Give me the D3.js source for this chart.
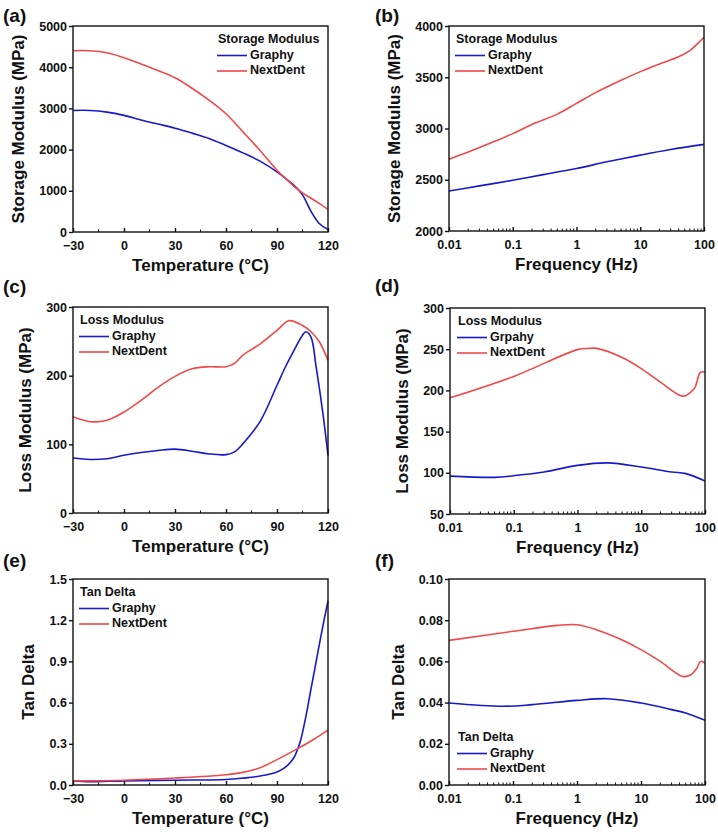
<!DOCTYPE html>
<html><head><meta charset="utf-8">
<script src="https://cdn.jsdelivr.net/npm/d3@7"></script>
<style>
body{margin:0;background:#fff;}
text{font-family:"Liberation Sans",Arial,sans-serif;font-weight:bold;fill:#111;}
</style></head>
<body><svg id="c" width="718" height="835"></svg>
<script>
// ---------- DATA ----------
const seriesNames = ["Graphy", "NextDent"];
// (a) storage modulus vs temperature
const tempA = [-30,-20,-10,0,10,20,30,40,50,60,70,80,90,95,100,105,110,115,120];
const graphyA = [2950,2950,2910,2830,2720,2620,2520,2400,2270,2100,1920,1720,1460,1300,1130,900,500,200,60];
const nextdentA = [4400,4400,4350,4230,4080,3920,3745,3490,3200,2870,2430,1980,1500,1300,1110,950,820,690,550];
// (b) storage modulus vs frequency
const freqBg = [0.01,0.03,0.1,0.3,1,3,10,30,100];
const graphyB = [2390,2440,2495,2550,2610,2675,2740,2795,2845];
const freqBn = [0.01,0.02,0.05,0.1,0.2,0.5,1,2,5,10,20,40,60,80,100];
const nextdentB = [2700,2770,2870,2950,3040,3140,3245,3350,3470,3555,3630,3700,3760,3830,3890];
// (c) loss modulus vs temperature
const tempCg = [-30,-20,-10,0,10,20,30,40,50,60,65,70,80,90,95,100,105,107,110,113,117,120];
const graphyC = [80,78,79,84,88,91,93,90,86,85,89,101,133,186,213,237,259,264,256,213,145,84];
const tempCn = [-30,-20,-10,0,10,20,30,40,50,60,65,70,80,90,97,105,110,115,120];
const nextdentC = [140,133,135,147,164,183,199,210,213,213,218,230,246,266,280,273,264,249,222];
// (d) loss modulus vs frequency
const freqDg = [0.01,0.05,0.1,0.3,1,3,10,30,50,100];
const graphyD = [96,94.5,96.5,101,109,112,107,101,99,90];
const freqDn = [0.01,0.1,1,1.5,2,5,10,20,45,60,70,85,100];
const nextdentD = [191,217,249.5,251,251,240,226.5,210,193,198,204,222,222];
// (e) tan delta vs temperature
const tempEg = [-30,-20,0,30,60,70,80,90,95,100,102.4,104,107,110,112,115,118,120];
const graphyE = [0.03,0.024,0.03,0.035,0.04,0.05,0.065,0.095,0.13,0.2,0.27,0.33,0.5,0.7,0.83,1.03,1.22,1.34];
const tempEn = [-30,0,30,60,70,80,90,100,110,120];
const nextdentE = [0.03,0.035,0.051,0.075,0.092,0.125,0.185,0.25,0.32,0.40];
// (f) tan delta vs frequency
const freqFg = [0.01,0.07,0.2,1,3,10,30,50,100];
const graphyF = [0.0398,0.0382,0.039,0.0411,0.0419,0.0398,0.0366,0.035,0.0314];
const freqFn = [0.01,0.1,0.5,1,2,5,10,20,45,60,75,85,100];
const nextdentF = [0.0702,0.0746,0.0775,0.0778,0.0754,0.0705,0.0657,0.060,0.0527,0.0535,0.0568,0.060,0.0592];

const tempTicks = [-30,0,30,60,90,120];
const freqTicks = [0.01,0.1,1,10,100];
const freqTickLabels = ["0.01","0.1","1","10","100"];
const ticksA = [0,1000,2000,3000,4000,5000];
const ticksB = [2000,2500,3000,3500,4000];
const ticksC = [0,100,200,300];
const ticksD = [50,100,150,200,250,300];
const ticksE = [0,0.3,0.6,0.9,1.2,1.5];
const ticksF = [0,0.02,0.04,0.06,0.08,0.10];
const legendTitles = ["Storage Modulus","Storage Modulus","Loss Modulus","Loss Modulus","Tan Delta","Tan Delta"];
const legendNamesD = ["Grpahy","NextDent"];

// ---------- LAYOUT ----------
const COL_BLUE = "#1818c8", COL_RED = "#f04848";
const svg = d3.select("#c");

const panels = [
 {lab:"(a)", lx:3, ly:17, x0:73, x1:328, y0:26, y1:232, log:false, dom:[-30,120], ydom:[0,5000], yt:ticksA, fmt:d3.format("d"),
  ytitle:"Storage Modulus (MPa)", ytx:20, xtitle:"Temperature (°C)", leg:[218,40], legTitle:legendTitles[0], names:seriesNames,
  s:[[tempA,graphyA],[tempA,nextdentA]]},
 {lab:"(b)", lx:375, ly:17, x0:449, x1:704, y0:26, y1:231, log:true, dom:[0.01,100], ydom:[2000,4000], yt:ticksB, fmt:d3.format("d"),
  ytitle:"Storage Modulus (MPa)", ytx:396, xtitle:"Frequency (Hz)", leg:[456,40], legTitle:legendTitles[1], names:seriesNames,
  s:[[freqBg,graphyB],[freqBn,nextdentB]]},
 {lab:"(c)", lx:3, ly:288, x0:73, x1:328, y0:307, y1:513, log:false, dom:[-30,120], ydom:[0,300], yt:ticksC, fmt:d3.format("d"),
  ytitle:"Loss Modulus (MPa)", ytx:27, xtitle:"Temperature (°C)", leg:[80,321], legTitle:legendTitles[2], names:seriesNames,
  s:[[tempCg,graphyC],[tempCn,nextdentC]]},
 {lab:"(d)", lx:375, ly:287, x0:450, x1:705, y0:308, y1:514, log:true, dom:[0.01,100], ydom:[50,300], yt:ticksD, fmt:d3.format("d"),
  ytitle:"Loss Modulus (MPa)", ytx:404, xtitle:"Frequency (Hz)", leg:[458,322], legTitle:legendTitles[3], names:legendNamesD,
  s:[[freqDg,graphyD],[freqDn,nextdentD]]},
 {lab:"(e)", lx:3, ly:562, x0:73, x1:328, y0:579, y1:785, log:false, dom:[-30,120], ydom:[0,1.5], yt:ticksE, fmt:d3.format(".1f"),
  ytitle:"Tan Delta", ytx:30, xtitle:"Temperature (°C)", leg:[80,593], legTitle:legendTitles[4], names:seriesNames,
  s:[[tempEg,graphyE],[tempEn,nextdentE]]},
 {lab:"(f)", lx:375, ly:562, x0:449, x1:705, y0:579, y1:785, log:true, dom:[0.01,100], ydom:[0,0.10], yt:ticksF, fmt:d3.format(".2f"),
  ytitle:"Tan Delta", ytx:400, xtitle:"Frequency (Hz)", leg:[458,738], legTitle:legendTitles[5], names:seriesNames,
  s:[[freqFg,graphyF],[freqFn,nextdentF]]}
];

panels.forEach(p => {
  const g = svg.append("g");
  const x = (p.log ? d3.scaleLog() : d3.scaleLinear()).domain(p.dom).range([p.x0,p.x1]);
  const y = d3.scaleLinear().domain(p.ydom).range([p.y1,p.y0]);

  g.append("text").attr("x",p.lx).attr("y",p.ly).attr("dominant-baseline","middle")
    .style("font-size","19px").text(p.lab);

  const cols = [COL_BLUE, COL_RED];
  p.s.forEach((s,i) => {
    const pts = s[0].map((v,j)=>[v,s[1][j]]);
    g.append("path").datum(pts)
      .attr("d", d3.line().x(d=>x(d[0])).y(d=>y(d[1])).curve(d3.curveCatmullRom.alpha(0.5)))
      .attr("fill","none").attr("stroke",cols[i]).attr("stroke-width",1.6);
  });

  g.append("rect").attr("x",p.x0).attr("y",p.y0).attr("width",p.x1-p.x0).attr("height",p.y1-p.y0)
    .attr("fill","none").attr("stroke","#111").attr("stroke-width",1.4);

  const ya = g.append("g").attr("transform",`translate(${p.x0},0)`)
    .call(d3.axisLeft(y).tickValues(p.yt).tickFormat(p.fmt).tickSize(4).tickPadding(2));
  ya.select(".domain").remove();
  ya.selectAll("line").attr("stroke","#111").attr("stroke-width",1.4);
  ya.selectAll("text").style("font-size","12.5px").style("font-family",null);

  const xa = g.append("g").attr("transform",`translate(0,${p.y1})`)
    .call(d3.axisBottom(x).tickValues(p.log?freqTicks:tempTicks)
      .tickFormat(p.log ? ((d,i)=>freqTickLabels[i]) : d3.format("d")).tickSize(-4).tickPadding(9));
  xa.select(".domain").remove();
  xa.selectAll("line").attr("stroke","#111").attr("stroke-width",1.4);
  xa.selectAll("text").style("font-size","12.5px").style("font-family",null);

  let minors = [];
  if (p.log) {
    for (let e=-2;e<2;e++) for (let m=2;m<10;m++) minors.push(m*Math.pow(10,e));
  } else {
    minors = [-15,15,45,75,105];
  }
  g.selectAll(null).data(minors).enter().append("line")
    .attr("x1",d=>x(d)).attr("x2",d=>x(d)).attr("y1",p.y1).attr("y2",p.y1-2.5)
    .attr("stroke","#111").attr("stroke-width",1);

  g.append("text").attr("x",(p.x0+p.x1)/2).attr("y",p.y1+35).attr("text-anchor","middle")
    .attr("dominant-baseline","middle").style("font-size","17px").text(p.xtitle);
  g.append("text").attr("transform",`translate(${p.ytx},${(p.y0+p.y1)/2}) rotate(-90)`)
    .attr("text-anchor","middle").attr("dominant-baseline","middle").style("font-size","17px").text(p.ytitle);

  const [lx,ly] = p.leg;
  g.append("text").attr("x",lx).attr("y",ly).attr("dominant-baseline","middle")
    .style("font-size","12.5px").text(p.legTitle);
  p.names.forEach((n,i)=>{
    const yy = ly + 15.5*(i+1);
    g.append("line").attr("x1",lx-1).attr("x2",lx+29).attr("y1",yy).attr("y2",yy)
      .attr("stroke",cols[i]).attr("stroke-width",1.6);
    g.append("text").attr("x",lx+32).attr("y",yy).attr("dominant-baseline","middle")
      .style("font-size","12.5px").text(n);
  });
});
</script></body></html>
